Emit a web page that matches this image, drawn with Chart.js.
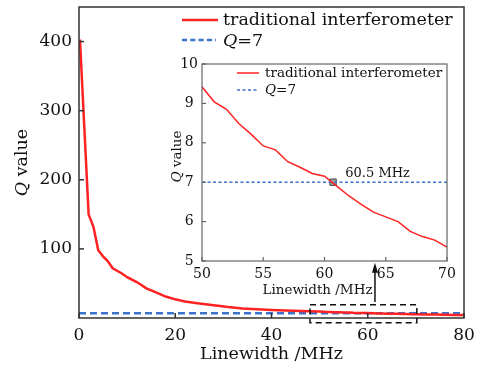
<!DOCTYPE html>
<html>
<head>
<meta charset="utf-8">
<script src="https://cdn.jsdelivr.net/npm/chart.js@4"></script>
<style>
  body { margin: 0; background: #fff; }
  #wrap { position: relative; width: 477px; height: 373px; }
  #mainChart { position: absolute; left: 0; top: 0; }
  #insetChart { position: absolute; left: 150px; top: 50px; }
</style>
</head>
<body>
<div id="wrap">
  <canvas id="mainChart" width="477" height="373"></canvas>
  <canvas id="insetChart" width="310" height="260"></canvas>
</div>
<script>
// linewidth (MHz) and Q value
const lineWidths = [0.2, 2, 3, 4, 5, 6, 7, 8, 9, 10, 12, 14, 16, 18, 20, 22, 25, 28, 31, 34, 37, 40, 43, 46, 48,
  50, 51, 52, 53, 54, 55, 56, 57, 58, 59, 60, 61, 62, 63, 64, 65, 66, 67, 68, 69, 70, 72, 74, 76, 78, 80];
const qValues = [403, 150, 132, 98, 89, 82, 72, 68, 64, 59, 52, 43, 37, 31, 27, 24, 21, 18.3, 15.8, 13.8, 12.6, 11.7, 10.9, 10.2, 9.8,
  9.42, 9.04, 8.85, 8.49, 8.22, 7.92, 7.82, 7.52, 7.38, 7.22, 7.15, 6.9, 6.65, 6.44, 6.24, 6.12, 6.0, 5.75, 5.62, 5.53, 5.35, 5.12, 4.9, 4.7, 4.5, 4.3];
const thresholdQ = 7;
const crossPoint = [60.7, 7];
const crossLabel = "60.5 MHz";

const mainXTicks = [0, 20, 40, 60, 80];
const mainYTicks = [100, 200, 300, 400];
const insetXTicks = [50, 55, 60, 65, 70];
const insetYTicks = [5, 6, 7, 8, 9, 10];

const seriesLabel = "traditional interferometer";
const thresholdLabel = [["Q", true], ["=7", false]];
const yTitle = [["Q", true], [" value", false]];
const xTitle = "Linewidth /MHz";

// zoom box [x0, x1, y0, y1] and arrow [x, yFrom, yTo] in main-chart units
const zoomBox = [48, 70.2, -7, 19];
const zoomArrow = [61.5, 23, 80];

const RED = "#ff2222";
const BLUE = "#3a72cc";
const FAMILY = "'DejaVu Serif', serif";

const font = (size, italic) => `${italic ? "italic " : ""}${size}px ${FAMILY}`;
const curve = lineWidths.map((x, i) => ({ x, y: qValues[i] }));

function drawParts(ctx, parts, x, y, size, align) {
  const widths = parts.map(([t, it]) => { ctx.font = font(size, it); return ctx.measureText(t).width; });
  const total = widths.reduce((a, b) => a + b, 0);
  let cx = align === "center" ? x - total / 2 : x;
  ctx.textAlign = "left";
  parts.forEach(([t, it], i) => {
    ctx.font = font(size, it);
    ctx.fillText(t, cx, y);
    cx += widths[i];
  });
}

function line(ctx, x0, y0, x1, y1) {
  ctx.beginPath();
  ctx.moveTo(x0, y0);
  ctx.lineTo(x1, y1);
  ctx.stroke();
}

function drawFrame(ctx, a, xs, ys, xTicks, yTicks, color, width, tick) {
  ctx.strokeStyle = color;
  ctx.lineWidth = width;
  ctx.setLineDash([]);
  ctx.strokeRect(a.left, a.top, a.right - a.left, a.bottom - a.top);
  xTicks.forEach(v => { const px = xs.getPixelForValue(v); line(ctx, px, a.bottom, px, a.bottom - tick); });
  yTicks.forEach(v => { const py = ys.getPixelForValue(v); line(ctx, a.left, py, a.left + tick, py); });
}

const mainDecor = {
  id: "mainDecor",
  afterDraw(chart) {
    const { ctx, chartArea: a, scales: { x, y } } = chart;
    ctx.save();
    drawFrame(ctx, a, x, y, mainXTicks, mainYTicks, "#333", 1.5, 5);

    // legend
    ctx.fillStyle = "#111";
    ctx.textBaseline = "middle";
    ctx.strokeStyle = RED; ctx.lineWidth = 2.5;
    line(ctx, a.left + 103, a.top + 13, a.left + 139, a.top + 13);
    drawParts(ctx, [[seriesLabel, false]], a.left + 144, a.top + 13, 17.5, "left");
    ctx.strokeStyle = BLUE; ctx.setLineDash([5, 3.3]);
    line(ctx, a.left + 103, a.top + 33, a.left + 137, a.top + 33);
    ctx.setLineDash([]);
    drawParts(ctx, thresholdLabel, a.left + 144, a.top + 34, 17.5, "left");

    // axis titles
    drawParts(ctx, [[xTitle, false]], (a.left + a.right) / 2, a.bottom + 36, 17.5, "center");
    ctx.save();
    ctx.translate(22, (a.top + a.bottom) / 2);
    ctx.rotate(-Math.PI / 2);
    drawParts(ctx, yTitle, 0, 0, 17.5, "center");
    ctx.restore();

    // dashed zoom box
    const bx0 = x.getPixelForValue(zoomBox[0]), bx1 = x.getPixelForValue(zoomBox[1]);
    const by0 = y.getPixelForValue(zoomBox[2]), by1 = y.getPixelForValue(zoomBox[3]);
    ctx.strokeStyle = "#111"; ctx.lineWidth = 1.5; ctx.setLineDash([6, 4]);
    ctx.strokeRect(bx0, by1, bx1 - bx0, by0 - by1);
    ctx.setLineDash([]);

    // arrow
    const ax = x.getPixelForValue(zoomArrow[0]);
    const ay0 = y.getPixelForValue(zoomArrow[1]), ay1 = y.getPixelForValue(zoomArrow[2]);
    ctx.lineWidth = 1.5;
    line(ctx, ax, ay0, ax, ay1 + 8);
    ctx.fillStyle = "#111";
    ctx.beginPath();
    ctx.moveTo(ax, ay1);
    ctx.lineTo(ax - 3, ay1 + 10);
    ctx.lineTo(ax + 3, ay1 + 10);
    ctx.closePath();
    ctx.fill();
    ctx.restore();
  }
};

const insetDecor = {
  id: "insetDecor",
  beforeDatasetsDraw(chart) {
    const { ctx, chartArea: a } = chart;
    ctx.save();
    ctx.fillStyle = "#fff";
    ctx.fillRect(a.left, a.top, a.right - a.left, a.bottom - a.top);
    ctx.restore();
  },
  afterDraw(chart) {
    const { ctx, chartArea: a, scales: { x, y } } = chart;
    ctx.save();
    drawFrame(ctx, a, x, y, insetXTicks, insetYTicks, "#666", 1.2, 4);

    ctx.fillStyle = "#111";
    ctx.textBaseline = "middle";
    ctx.strokeStyle = RED; ctx.lineWidth = 1.5;
    line(ctx, a.left + 35, a.top + 9, a.left + 57, a.top + 9);
    drawParts(ctx, [[seriesLabel, false]], a.left + 63, a.top + 9, 13.5, "left");
    ctx.strokeStyle = BLUE; ctx.setLineDash([3, 2.5]);
    line(ctx, a.left + 35, a.top + 26, a.left + 57, a.top + 26);
    ctx.setLineDash([]);
    drawParts(ctx, thresholdLabel, a.left + 63, a.top + 26, 13.5, "left");

    // crossing label
    ctx.textBaseline = "alphabetic";
    drawParts(ctx, [[crossLabel, false]], x.getPixelForValue(61.7), y.getPixelForValue(7.12), 13, "left");

    // titles
    ctx.textBaseline = "middle";
    drawParts(ctx, [[xTitle, false]], (a.left + a.right) / 2 - 7, a.bottom + 29, 13.5, "center");
    ctx.save();
    ctx.translate(a.left - 25, (a.top + a.bottom) / 2 - 6);
    ctx.rotate(-Math.PI / 2);
    drawParts(ctx, yTitle, 0, 0, 13.5, "center");
    ctx.restore();
    ctx.restore();
  }
};

function axis(ticksList, min, max, size, pad, thickness, vertical) {
  return {
    type: "linear",
    min, max,
    afterBuildTicks: s => { s.ticks = ticksList.map(v => ({ value: v })); },
    afterFit: s => {
      if (vertical) { s.width = thickness; s.paddingTop = 0; s.paddingBottom = 0; }
      else { s.height = thickness; s.paddingLeft = 0; s.paddingRight = 0; }
    },
    grid: { display: false, drawTicks: false },
    border: { display: false },
    ticks: { font: { family: FAMILY, size }, color: "#111", padding: pad, maxRotation: 0, autoSkip: false }
  };
}

new Chart(document.getElementById("mainChart"), {
  type: "line",
  data: {
    datasets: [
      { label: seriesLabel, data: curve, borderColor: RED, borderWidth: 2.5, pointRadius: 0, tension: 0 },
      { label: "Q=7", data: [{ x: 0, y: thresholdQ }, { x: 80, y: thresholdQ }], borderColor: BLUE, borderWidth: 2.5, borderDash: [7, 4], pointRadius: 0 }
    ]
  },
  options: {
    responsive: false,
    animation: false,
    layout: { padding: { left: 0, top: 7, right: 13, bottom: 0 } },
    plugins: { legend: { display: false }, tooltip: { enabled: false } },
    scales: {
      x: axis(mainXTicks, 0, 80, 17, 7, 55, false),
      y: axis(mainYTicks, 0, 450, 17, 7, 79, true)
    }
  },
  plugins: [mainDecor]
});

const insetY = axis(insetYTicks, 5, 10, 14, 4, 52, true);
insetY.ticks.crossAlign = "center";

new Chart(document.getElementById("insetChart"), {
  type: "line",
  data: {
    datasets: [
      { label: seriesLabel, data: curve, borderColor: RED, borderWidth: 1.5, pointRadius: 0, tension: 0 },
      { label: "Q=7", data: [{ x: 50, y: thresholdQ }, { x: 70, y: thresholdQ }], borderColor: BLUE, borderWidth: 1.5, borderDash: [3, 2.5], pointRadius: 0 },
      { label: crossLabel, data: [{ x: crossPoint[0], y: crossPoint[1] }], showLine: false, pointStyle: "rect", pointRadius: 4.5, backgroundColor: "#a6a6a6", borderColor: "#444", borderWidth: 1 }
    ]
  },
  options: {
    responsive: false,
    animation: false,
    layout: { padding: { left: 0, top: 14, right: 13, bottom: 0 } },
    plugins: { legend: { display: false }, tooltip: { enabled: false } },
    scales: {
      x: axis(insetXTicks, 50, 70, 14, 5, 49, false),
      y: insetY
    }
  },
  plugins: [insetDecor]
});
</script>
</body>
</html>
